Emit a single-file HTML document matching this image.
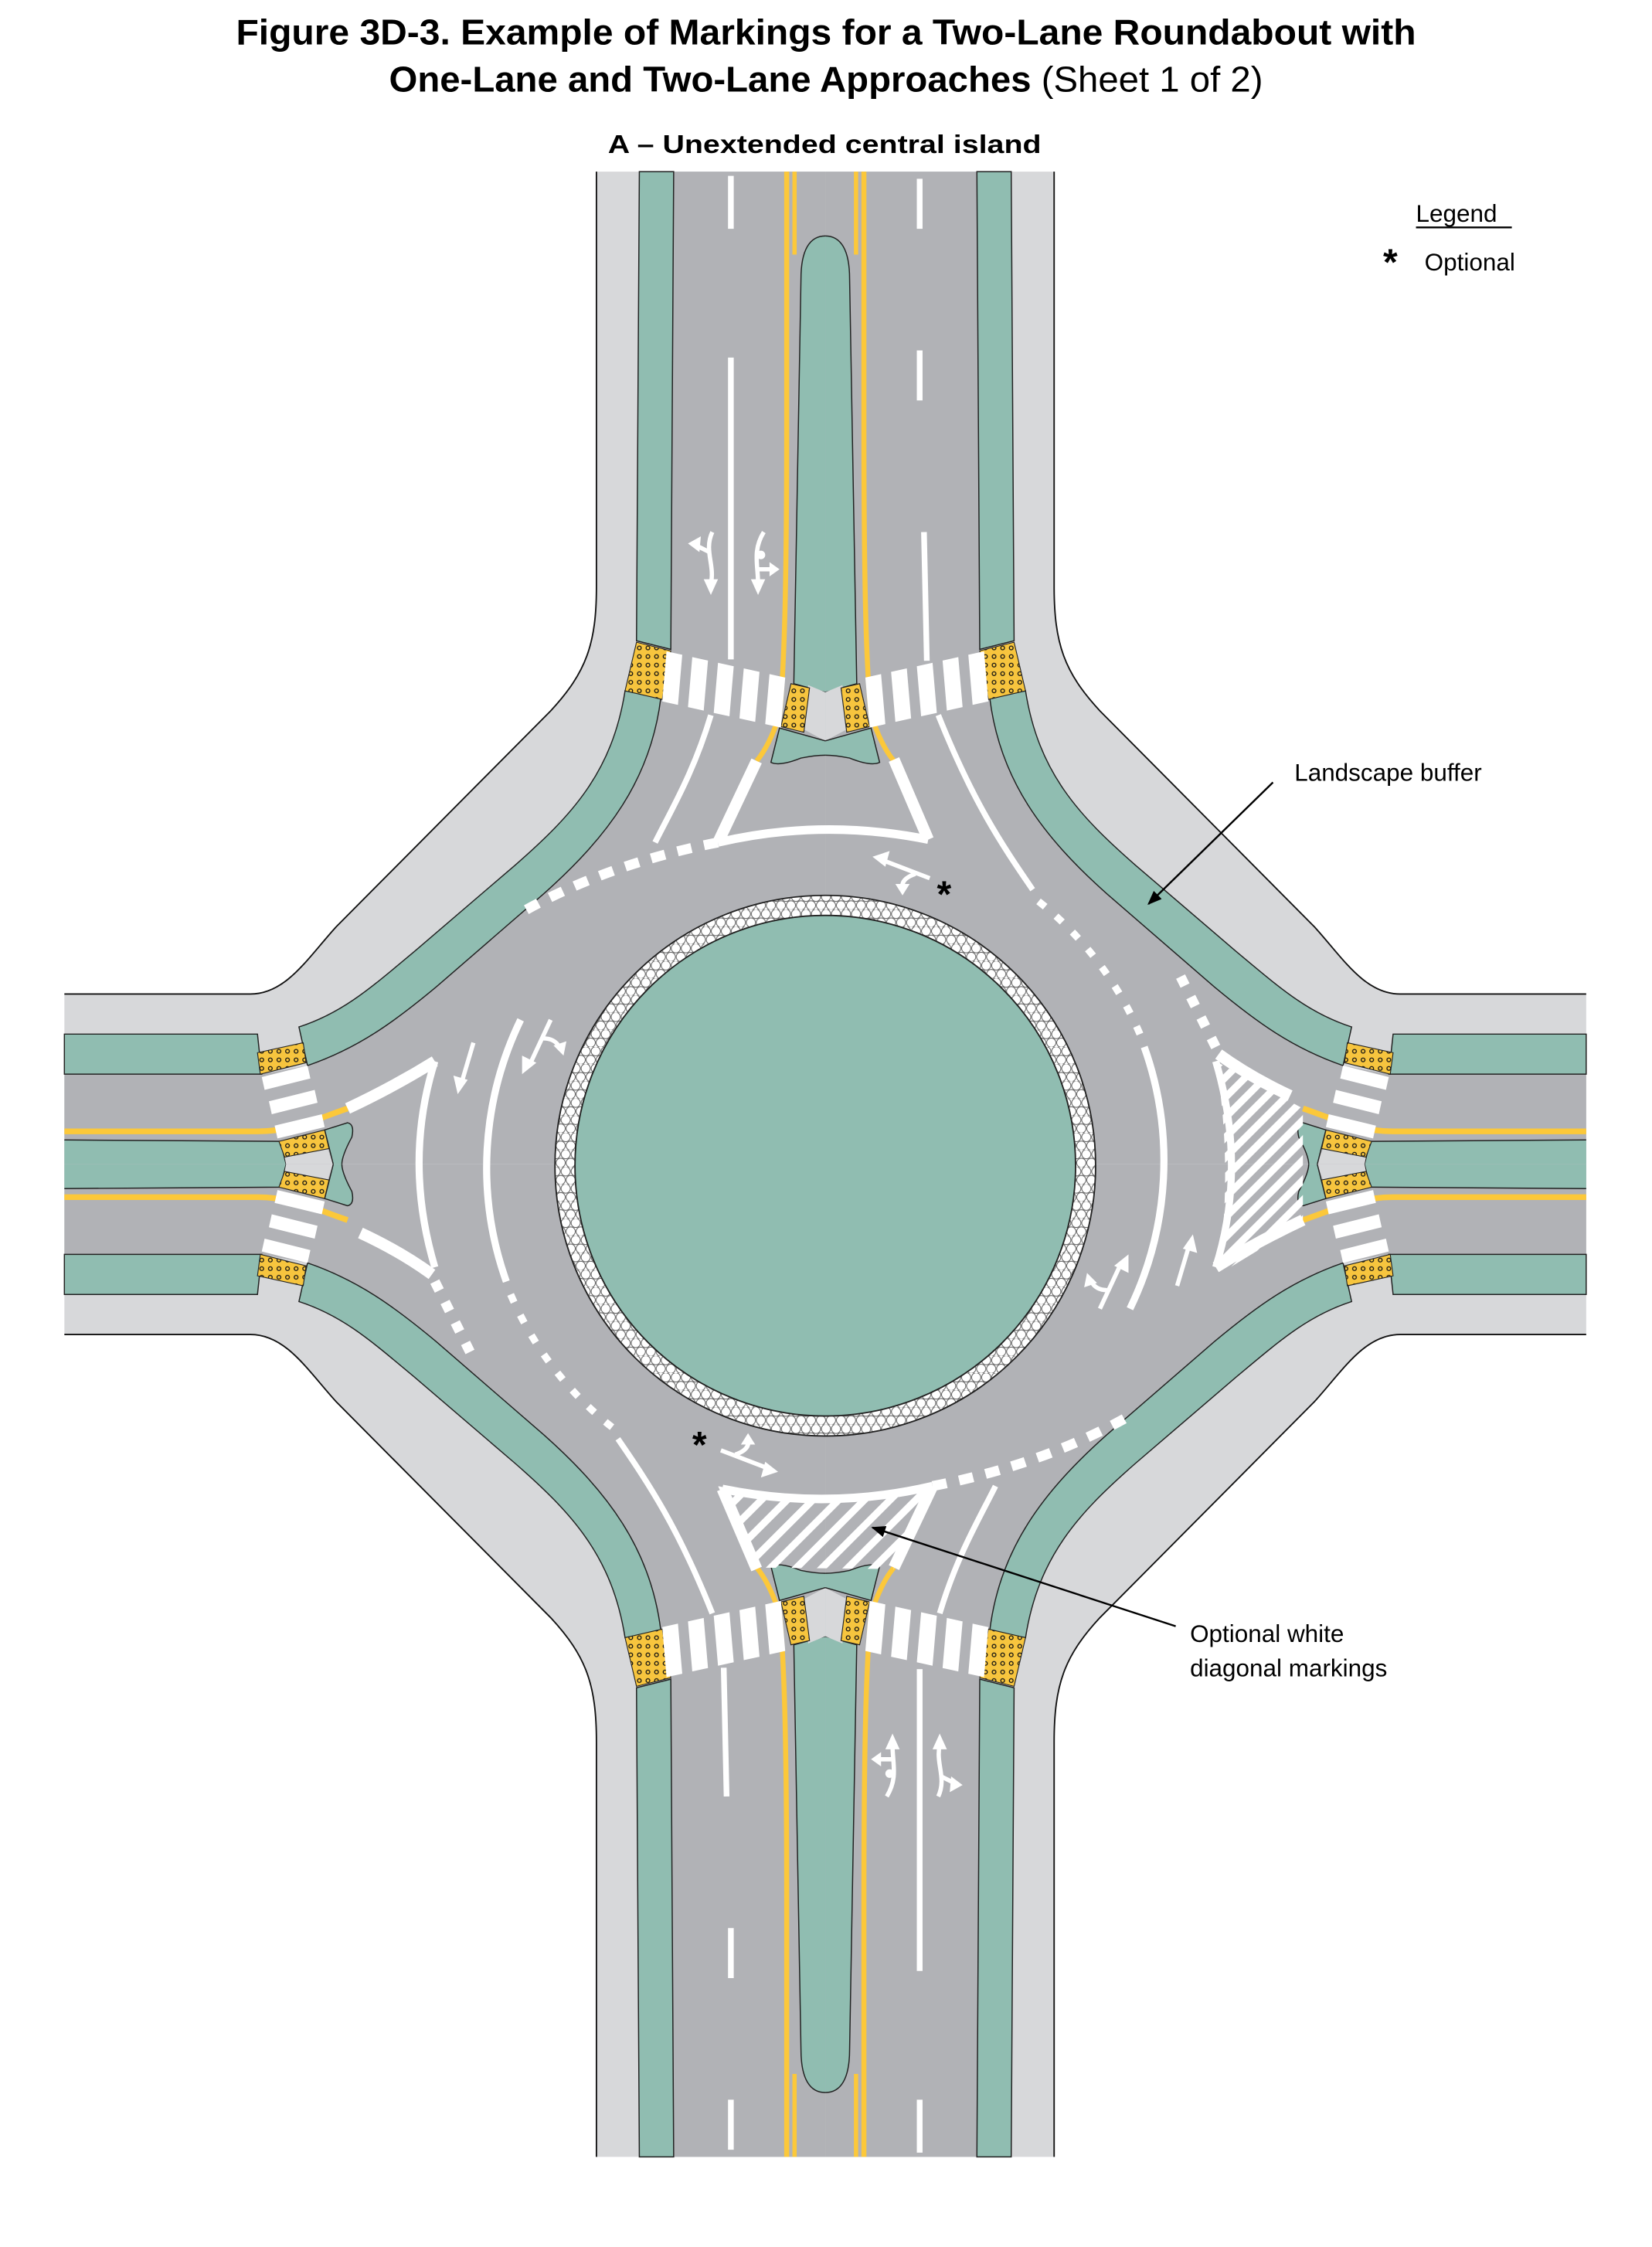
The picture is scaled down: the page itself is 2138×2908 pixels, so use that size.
<!DOCTYPE html>
<html><head><meta charset="utf-8"><style>html,body{margin:0;padding:0;background:#fff}svg{display:block}</style></head>
<body>
<svg xmlns="http://www.w3.org/2000/svg" xmlns:xlink="http://www.w3.org/1999/xlink" width="2138" height="2908" viewBox="0 0 1155 1571">
<defs>
<pattern id="pad" width="6" height="6" patternUnits="userSpaceOnUse">
<rect width="6" height="6" fill="#f7c53e"/><circle cx="3" cy="3" r="1.3" fill="none" stroke="#111" stroke-width="0.7"/></pattern>
<pattern id="hex" width="7" height="12" patternUnits="userSpaceOnUse">
<rect width="7" height="12" fill="#fff"/>
<circle cx="3.5" cy="3" r="3.2" fill="#fff" stroke="#555" stroke-width="0.5"/>
<circle cx="0" cy="9" r="3.2" fill="#fff" stroke="#555" stroke-width="0.5"/>
<circle cx="7" cy="9" r="3.2" fill="#fff" stroke="#555" stroke-width="0.5"/></pattern>
<clipPath id="cr"><path d="M850,742 L911,775 L911,855 L852,891 Q862,812 850,742Z"/></clipPath>
<clipPath id="cb"><path d="M502,1039 Q575,1056 649,1041 L625,1097 L529,1096Z"/></clipPath>
<marker id="ah" markerWidth="10" markerHeight="8" refX="9" refY="4" orient="auto" markerUnits="userSpaceOnUse"><path d="M0,0 L10,4 L0,8Z" fill="#000"/></marker>

<g id="q">
<path d="M577,120 L417,120 L417,410 C417,450 410,470 385,497 L235,648 C215,670 200,695 175,695 L45,695 L45,814 L577,814Z" fill="#d7d8da"/>
<path d="M417,120 L417,410 C417,450 410,470 385,497 L235,648 C215,670 200,695 175,695 L45,695" fill="none" stroke="#111" stroke-width="1"/>
<path d="M577,120 L471,120 L469,454 L462,488 C455,545 425,585 380,625 L305,690 C275,715 250,733 215,745 L183,751 L45,751 L45,814 L577,814Z" fill="#b1b2b6"/>
<polygon points="447,120 471,120 469,454 445,448" fill="#90bdb1" stroke="#222" stroke-width="0.8"/>
<path d="M437,483 C428,540 400,570 360,605 L290,665 C260,690 240,708 209,718 L215,745 C250,733 275,715 305,690 L380,625 C425,585 455,545 462,488Z" fill="#90bdb1" stroke="#222" stroke-width="0.8"/>
<polygon points="445,449 469,455 463,489 437,483" fill="url(#pad)" stroke="#222" stroke-width="0.6"/>
<polygon points="45,723 180,723 183,751 45,751" fill="#90bdb1" stroke="#222" stroke-width="0.8"/>
<polygon points="180,736 212,729 214,743 182,751" fill="url(#pad)" stroke="#222" stroke-width="0.6"/>
<!-- vertical median -->
<path d="M577,165 C566,165 560,175 560,195 L555,478 L577,484Z" fill="#90bdb1"/>
<path d="M577,165 C566,165 560,175 560,195 L555,478 L577,484" fill="none" stroke="#222" stroke-width="0.8"/>
<polygon points="565,479 577,484 577,518 562,510" fill="#d7d8da"/>
<path d="M577,518 L545,509 L539,533 Q545,536 560,530 Q570,528 577,528Z" fill="#90bdb1"/>
<path d="M577,518 L545,509 L539,533 Q545,536 560,530 Q570,528 577,528" fill="none" stroke="#222" stroke-width="0.8"/>
<path d="M550,120 L550,300 C550,420 548,470 545,500 C540,515 535,525 529,532" fill="none" stroke="#fcc83a" stroke-width="3.5"/>
<path d="M555.5,120 L555.5,178" fill="none" stroke="#fcc83a" stroke-width="3"/>
<polygon points="553,478 566,481 562,512 546,508" fill="url(#pad)" stroke="#222" stroke-width="0.6"/>
<!-- crosswalk top-left -->
<g fill="#fff">
<polygon points="466,455.4 477,457.8 474,492.8 463,490.4"/>
<polygon points="484,459.4 495,461.8 492,496.8 481,494.4"/>
<polygon points="502,463.4 513,465.8 510,500.8 499,498.4"/>
<polygon points="520,467.3 531,469.7 528,504.7 517,502.3"/>
<polygon points="538,471.3 549,473.7 546,508.7 535,506.3"/>
</g>
<!-- horizontal median -->
<path d="M45,797 L196,798 L200,814 L45,814Z" fill="#90bdb1"/>
<path d="M45,797 L196,798 L200,814" fill="none" stroke="#222" stroke-width="0.8"/>
<polygon points="199,809 229,803 233,814 200,814" fill="#d7d8da"/>
<path d="M45,791 L180,791 C205,791 222,782 243,775" fill="none" stroke="#fcc83a" stroke-width="4"/>
<g fill="#fff">
<polygon points="183,753 215,745 217,754 185,762"/>
<polygon points="188,770 220,762 222,771 190,779"/>
<polygon points="192,787 225,779 227,788 194,796"/>
</g>
<polygon points="195,798 227,790 230,803 199,809" fill="url(#pad)" stroke="#222" stroke-width="0.6"/>
<path d="M227,790 L243,785 Q248,786 246,795 Q239,808 239,814 L233,814Z" fill="#90bdb1"/>
<path d="M233,814 L227,790 L243,785 Q248,786 246,795 Q239,808 239,814" fill="none" stroke="#222" stroke-width="0.8"/>
</g>
</defs>

<rect width="1155" height="1571" fill="#fff"/>
<use xlink:href="#q"/>
<use xlink:href="#q" transform="matrix(-1 0 0 1 1154 0)"/>
<use xlink:href="#q" transform="matrix(1 0 0 -1 0 1628)"/>
<use xlink:href="#q" transform="matrix(-1 0 0 -1 1154 1628)"/>

<!-- central island -->
<circle cx="577" cy="815" r="189" fill="url(#hex)" stroke="#222" stroke-width="1"/>
<circle cx="577" cy="815" r="175" fill="#90bdb1" stroke="#222" stroke-width="1"/>

<!-- hatching -->
<g clip-path="url(#cr)" stroke="#fff" stroke-width="5">
<line x1="780" y1="900" x2="940" y2="740"/><line x1="794" y1="900" x2="954" y2="740"/><line x1="808" y1="900" x2="968" y2="740"/><line x1="822" y1="900" x2="982" y2="740"/><line x1="836" y1="900" x2="996" y2="740"/><line x1="850" y1="900" x2="1010" y2="740"/><line x1="864" y1="900" x2="1024" y2="740"/><line x1="766" y1="900" x2="926" y2="740"/><line x1="752" y1="900" x2="912" y2="740"/><line x1="738" y1="900" x2="898" y2="740"/><line x1="724" y1="900" x2="884" y2="740"/><line x1="710" y1="900" x2="870" y2="740"/><line x1="696" y1="900" x2="856" y2="740"/>
</g>
<g clip-path="url(#cb)" stroke="#fff" stroke-width="5">
<line x1="440" y1="1105" x2="510" y2="1035"/><line x1="458" y1="1105" x2="528" y2="1035"/><line x1="476" y1="1105" x2="546" y2="1035"/><line x1="494" y1="1105" x2="564" y2="1035"/><line x1="512" y1="1105" x2="582" y2="1035"/><line x1="530" y1="1105" x2="600" y2="1035"/><line x1="548" y1="1105" x2="618" y2="1035"/><line x1="566" y1="1105" x2="636" y2="1035"/><line x1="584" y1="1105" x2="654" y2="1035"/><line x1="602" y1="1105" x2="672" y2="1035"/><line x1="620" y1="1105" x2="690" y2="1035"/>
</g>

<!-- rotationally symmetric markings -->
<g id="c" fill="none" stroke="#fff">
<line x1="511" y1="123" x2="511" y2="160" stroke-width="4"/>
<line x1="511" y1="250" x2="511" y2="461" stroke-width="4"/>
<path d="M497,500 C485,540 470,565 458,589" stroke-width="4"/>
<line x1="643" y1="125" x2="643" y2="160" stroke-width="4"/>
<line x1="643" y1="245" x2="643" y2="280" stroke-width="4"/>
<line x1="646" y1="372" x2="648" y2="462" stroke-width="4"/>
<path d="M656,500 C680,560 700,590 722,622" stroke-width="4"/>
<path d="M502,589 C455,598 410,613 368,636" stroke-width="7" stroke-dasharray="10 9"/>
<path d="M304,896 L332,952" stroke-width="7" stroke-dasharray="7 9"/>
<path d="M364,713 A237,237 0 0 0 354,896" stroke-width="5"/>
<path d="M357,905 A237,237 0 0 0 432,1001" stroke-width="5" stroke-dasharray="6 10"/>
<path d="M529,532 L502,589" stroke-width="8"/>
<path d="M625,531 L649,587" stroke-width="8"/>
<path d="M502,589 Q575,572 649,587" stroke-width="6"/>
<path d="M243,775 Q275,760 304,742" stroke-width="8"/>
<path d="M304,742 Q282,812 304,886" stroke-width="5"/>
<path d="M252,862 Q280,875 302,891" stroke-width="8"/>
<path d="M498,372 C492,385 500,395 497,408" stroke-width="3"/>
<path d="M496,386 L486,381" stroke-width="3"/>
<path d="M534,372 C526,385 530,395 530,408" stroke-width="3"/>
<path d="M530,398 L540,398" stroke-width="3"/>
<path d="M616,601 L650,614" stroke-width="3"/>
<path d="M640,611 C634,613 630,616 631,621" stroke-width="3"/>
<path d="M331,729 L323,756" stroke-width="3"/>
<path d="M385,713 L371,743" stroke-width="3"/>
<path d="M380,726 C385,726 389,728 391,732" stroke-width="3"/>
</g>
<g id="ch" fill="#fff">
<polygon points="492,405 502,405 497,416"/>
<polygon points="481,380 490,375 489,386"/>
<circle cx="532" cy="388" r="3"/>
<polygon points="525,405 535,405 530,416"/>
<polygon points="538,393 545,398 538,403"/>
<polygon points="610,599 622,595 619,606"/>
<polygon points="626,618 636,618 631,626"/>
<polygon points="317,752 327,755 320,765"/>
<polygon points="365,738 375,743 365,751"/>
<polygon points="387,731 396,728 394,738"/>
</g>
<use xlink:href="#c" transform="rotate(180 577 814)"/>
<use xlink:href="#ch" transform="rotate(180 577 814)"/>

<text x="655" y="634" font-family="Liberation Sans, sans-serif" font-weight="bold" font-size="26" fill="#000">*</text>
<text x="484" y="1019" font-family="Liberation Sans, sans-serif" font-weight="bold" font-size="26" fill="#000">*</text>

<g font-family="Liberation Sans, Arial, sans-serif" fill="#000">
<text x="165" y="31" font-size="25" font-weight="bold" textLength="825" lengthAdjust="spacingAndGlyphs">Figure 3D-3.  Example of Markings for a Two-Lane Roundabout with</text>
<text x="272" y="64" font-size="25" textLength="611" lengthAdjust="spacingAndGlyphs"><tspan font-weight="bold">One-Lane and Two-Lane Approaches</tspan> (Sheet 1 of 2)</text>
<text x="425" y="107" font-size="18" font-weight="bold" textLength="303" lengthAdjust="spacingAndGlyphs">A – Unextended central island</text>
<text x="990" y="155" font-size="17">Legend</text>
<line x1="990" y1="159" x2="1057" y2="159" stroke="#000" stroke-width="1.3"/>
<text x="967" y="192" font-size="26" font-weight="bold">*</text>
<text x="996" y="189" font-size="17">Optional</text>
<text x="905" y="546" font-size="17">Landscape buffer</text>
<text x="832" y="1148" font-size="17">Optional white</text>
<text x="832" y="1172" font-size="17">diagonal markings</text>
</g>
<line x1="890" y1="547" x2="803" y2="632" stroke="#000" stroke-width="1.3" marker-end="url(#ah)"/>
<line x1="822" y1="1137" x2="610" y2="1068" stroke="#000" stroke-width="1.3" marker-end="url(#ah)"/>
</svg>
</body></html>
